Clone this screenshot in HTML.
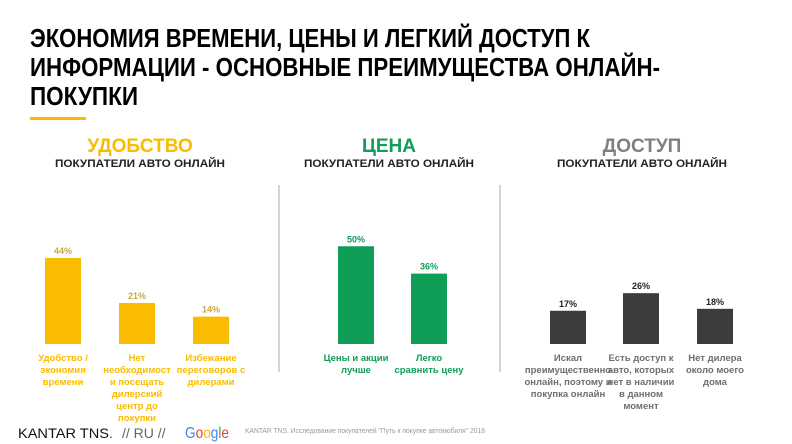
<!DOCTYPE html>
<html><head><meta charset="utf-8"><style>
body{margin:0;background:#fff;}
svg{display:block;font-family:"Liberation Sans",sans-serif;}
</style></head><body>
<svg id="chart" width="792" height="444" viewBox="0 0 792 444" xmlns="http://www.w3.org/2000/svg">
<g font-weight="bold" font-size="26" fill="#000">
<text x="30" y="47" textLength="560" lengthAdjust="spacingAndGlyphs">ЭКОНОМИЯ ВРЕМЕНИ, ЦЕНЫ И ЛЕГКИЙ ДОСТУП К</text>
<text x="30" y="76" textLength="630" lengthAdjust="spacingAndGlyphs">ИНФОРМАЦИИ - ОСНОВНЫЕ ПРЕИМУЩЕСТВА ОНЛАЙН-</text>
<text x="30" y="105" textLength="108" lengthAdjust="spacingAndGlyphs">ПОКУПКИ</text>
</g>
<rect x="30" y="117" width="56" height="3" fill="#F9BC00"/>
<line x1="279" y1="185" x2="279" y2="372" stroke="#aaa" stroke-width="1"/>
<line x1="500" y1="185" x2="500" y2="372" stroke="#aaa" stroke-width="1"/>
<g id="panels"></g>
<g>
<text x="18" y="438" font-size="14" fill="#111" textLength="95" lengthAdjust="spacingAndGlyphs">KANTAR TNS<tspan fill="#e5007d">.</tspan></text>
<text x="122" y="438" font-size="14" fill="#666">// RU //</text>
<text x="185" y="438" font-size="16" textLength="44" lengthAdjust="spacingAndGlyphs"><tspan fill="#4285F4">G</tspan><tspan fill="#EA4335">o</tspan><tspan fill="#FBBC05">o</tspan><tspan fill="#4285F4">g</tspan><tspan fill="#34A853">l</tspan><tspan fill="#EA4335">e</tspan></text>
<text x="245" y="433" font-size="7" fill="#999" textLength="240" lengthAdjust="spacingAndGlyphs">KANTAR TNS. Исследование покупателей "Путь к покупке автомобиля" 2018</text>
</g>
</svg>
<script>
const panelTitles = ["УДОБСТВО", "ЦЕНА", "ДОСТУП"];
const panelColors = ["#F9BC00", "#0F9D58", "#3c3c3c"];
const titleColors = ["#F9BC00", "#0F9D58", "#808080"];
const panelCenters = [140, 389, 642];
const convenienceValues = [44, 21, 14];
const priceValues = [50, 36];
const accessValues = [17, 26, 18];
const convenienceLabels = [["Удобство /","экономия","времени"],["Нет","необходимост","и посещать","дилерский","центр до","покупки"],["Избежание","переговоров с","дилерами"]];
const priceLabels = [["Цены и акции","лучше"],["Легко","сравнить цену"]];
const accessLabels = [["Искал","преимущественно","онлайн, поэтому и","покупка онлайн"],["Есть доступ к","авто, которых","нет в наличии","в данном","момент"],["Нет дилера","около моего","дома"]];
const valueSets = [convenienceValues, priceValues, accessValues];
const labelSets = [convenienceLabels, priceLabels, accessLabels];
const barStarts = [[45,119,193],[338,411],[550,623,697]];
const baseY = 344, pxPer = 1.955, barW = 36;
function y(v){return baseY - v*pxPer;}
const NS="http://www.w3.org/2000/svg";
const g=document.getElementById('panels');
function mk(tag,attrs,txt){const e=document.createElementNS(NS,tag);for(const k in attrs)e.setAttribute(k,attrs[k]);if(txt!==undefined)e.textContent=txt;return e;}
panelTitles.forEach((t,p)=>{
  const h=mk('text',{x:panelCenters[p],y:152,'text-anchor':'middle','font-size':19,'font-weight':'bold',fill:titleColors[p]},t);
  
  
  g.appendChild(h);
  const s=mk('text',{x:panelCenters[p],y:167,'text-anchor':'middle','font-size':11,'font-weight':'bold',fill:'#222',textLength:170,lengthAdjust:'spacingAndGlyphs'},'ПОКУПАТЕЛИ АВТО ОНЛАЙН');
  
  
  g.appendChild(s);
  valueSets[p].forEach((v,i)=>{
    const x=barStarts[p][i];
    const r=mk('rect',{x:x,y:y(v),width:barW,height:baseY-y(v),fill:panelColors[p]});
    
    
    g.appendChild(r);
    const vl=mk('text',{x:x+barW/2,y:y(v)-4,'text-anchor':'middle','font-size':9,'font-weight':'bold',fill:p==0?'#c9a74a':(p==1?'#0F9D58':'#222')},v+'%');
    
    
    g.appendChild(vl);
    labelSets[p][i].forEach((ln,k)=>{
      const tl=mk('text',{x:x+barW/2,y:361+k*12,'text-anchor':'middle','font-size':9.5,'font-weight':'bold',fill:p==2?'#6e6e6e':panelColors[p]},ln);
      
      
      g.appendChild(tl);
    });
  });
});
</script>
</body></html>
